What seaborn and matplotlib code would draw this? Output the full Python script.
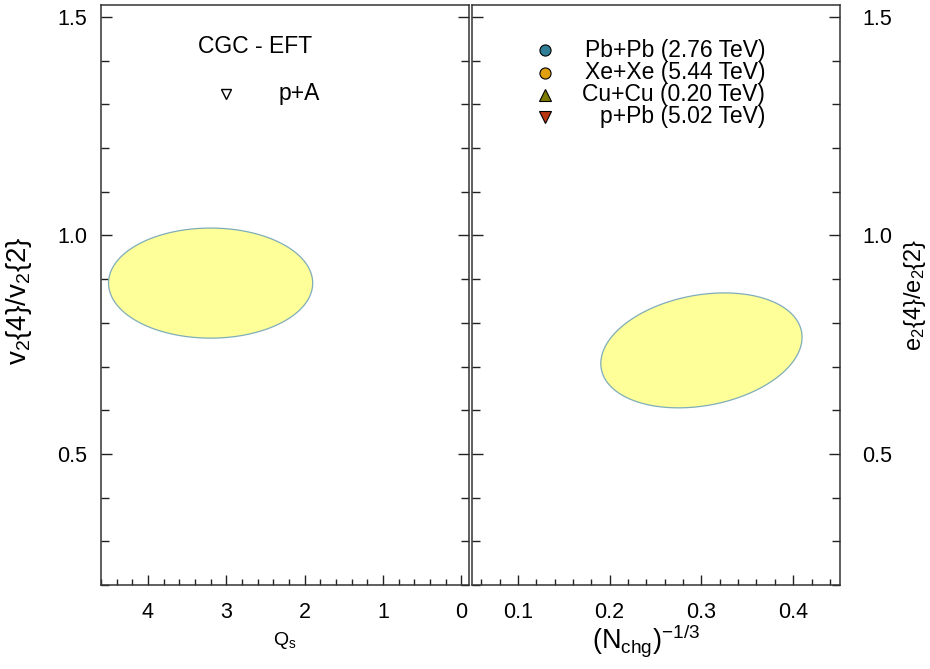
import numpy as np
import pandas as pd
import matplotlib
matplotlib.use("Agg")
import matplotlib.pyplot as plt
from matplotlib.ticker import MultipleLocator
import seaborn as sns

# ---- data ----
# left panel: CGC-EFT p+A band in (Qs, v2{4}/v2{2})
left_center = [3.20, 0.891]
left_semi = [1.304, 0.126]          # semi-axes along Qs and along ratio
# right panel: band in ((Nchg)^-1/3, e2{4}/e2{2}); tilted ellipse
right_center = [0.300, 0.737]
right_cos_coef = [0.1091, 0.0428]   # x, y coefficient of cos(t)
right_sin_coef = [-0.0111, 0.1244]  # x, y coefficient of sin(t)

legend_systems = ["Pb+Pb (2.76 TeV)", "Xe+Xe (5.44 TeV)", "Cu+Cu (0.20 TeV)", "p+Pb (5.02 TeV)"]
legend_markers = ["o", "o", "^", "v"]
legend_colors = ["#2f7f96", "#e0a010", "#7c7a00", "#b8350f"]

left_yticks = [0.5, 1.0, 1.5]
left_xticks = [4, 3, 2, 1, 0]
right_xticks = [0.1, 0.2, 0.3, 0.4]

sns.set_theme(style="ticks")
plt.rcParams["font.family"] = ["Liberation Sans", "DejaVu Sans"]
plt.rcParams["mathtext.default"] = "regular"
for k in ["text.color", "axes.labelcolor", "xtick.labelcolor", "ytick.labelcolor"]:
    plt.rcParams[k] = "black"

fig = plt.figure(figsize=(9.3, 6.69), dpi=100)
axL = fig.add_axes([101/930, 84/669, 368/930, 580/669])
axR = fig.add_axes([472/930, 84/669, 368/930, 580/669])

t = np.linspace(0, 2*np.pi, 361)
dfL = pd.DataFrame({"x": left_center[0] + left_semi[0]*np.cos(t),
                    "y": left_center[1] + left_semi[1]*np.sin(t)})
dfR = pd.DataFrame({"x": right_center[0] + right_cos_coef[0]*np.cos(t) + right_sin_coef[0]*np.sin(t),
                    "y": right_center[1] + right_cos_coef[1]*np.cos(t) + right_sin_coef[1]*np.sin(t)})

fill_c = "#ffff99"
edge_c = "#7fadb8"
for ax, df in [(axL, dfL), (axR, dfR)]:
    ax.fill(df["x"], df["y"], color=fill_c, zorder=1, lw=0)
    sns.lineplot(data=df, x="x", y="y", sort=False, estimator=None, ax=ax,
                 color=edge_c, lw=0.9, zorder=2)

for ax in (axL, axR):
    ax.set_ylim(0.2, 1.5275)
    ax.yaxis.set_major_locator(MultipleLocator(0.5))
    ax.yaxis.set_minor_locator(MultipleLocator(0.1))
    ax.tick_params(axis="y", which="major", direction="in", length=8, width=1,
                   left=True, right=True, color="#222222", labelsize=15.5)
    ax.tick_params(axis="y", which="minor", direction="in", length=6, width=1,
                   left=True, right=True, color="#222222")
    ax.tick_params(axis="x", which="major", direction="in", length=7, width=1,
                   bottom=True, top=False, color="#222222", labelsize=15.5, pad=12)
    ax.tick_params(axis="x", which="minor", direction="in", length=4, width=1,
                   bottom=True, top=False, color="#222222")
    for s in ax.spines.values():
        s.set_color("#333333")
        s.set_linewidth(1.1)
    ax.grid(False)

# left
axL.set_xlim(4.60, -0.10)
axL.set_xticks(left_xticks)
axL.set_xticklabels([str(v) for v in left_xticks])
axL.xaxis.set_minor_locator(MultipleLocator(0.2))
axL.set_yticks(left_yticks)
axL.set_yticklabels([f"{v:.1f}" for v in left_yticks])
axL.tick_params(axis="y", labelleft=True, labelright=False, pad=10)
axL.set_xlabel(r"$Q_s$", fontsize=14)
axL.xaxis.set_label_coords(0.5, -0.078)
axL.set_ylabel(r"$v_2\{4\}/v_2\{2\}$", fontsize=20)
axL.yaxis.set_label_coords(-0.182, 0.49)
axL.text(0.42, 0.929, "CGC - EFT", transform=axL.transAxes, ha="center", va="center", fontsize=16.5)
axL.plot([0.341], [0.847], marker="v", mfc="white", mec="black", ms=7, mew=1,
         transform=axL.transAxes, ls="none")
axL.text(0.482, 0.847, "p+A", transform=axL.transAxes, ha="left", va="center", fontsize=16.5)

# right
axR.set_xlim(0.05, 0.451)
axR.set_xticks(right_xticks)
axR.set_xticklabels([f"{v:.1f}" for v in right_xticks])
axR.xaxis.set_minor_locator(MultipleLocator(0.02))
axR.set_yticks(left_yticks)
axR.set_yticklabels([f"{v:.1f}" for v in left_yticks])
axR.tick_params(axis="y", labelleft=False, labelright=True, pad=16)
axR.yaxis.set_label_position("right")
axR.set_ylabel(r"$e_2\{4\}/e_2\{2\}$", fontsize=17)
axR.yaxis.set_label_coords(1.168, 0.5)
axR.set_xlabel(r"$(N_{chg})^{-1/3}$", fontsize=19.5)
axR.xaxis.set_label_coords(0.473, -0.064)

rows = [0.922, 0.883, 0.845, 0.807]
for lab, m, c, yy in zip(legend_systems, legend_markers, legend_colors, rows):
    axR.plot([0.198], [yy], marker=m, mfc=c, mec="black", ms=8, mew=0.8,
             transform=axR.transAxes, ls="none")
    axR.text(0.797, yy, lab, transform=axR.transAxes, ha="right", va="center", fontsize=16.5)

fig.savefig("out.png", dpi=100)
